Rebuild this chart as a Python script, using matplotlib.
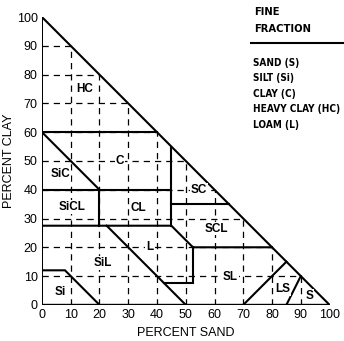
import matplotlib.pyplot as plt

# soil texture triangle (percent sand on x, percent clay on y)
ticks = [0, 10, 20, 30, 40, 50, 60, 70, 80, 90, 100]

# solid class boundaries, each as (sand list, clay list)
boundaries = [
    ([0, 0, 100, 0], [0, 100, 0, 0]),          # outer triangle
    ([0, 40], [60, 60]),                      # HC / C
    ([0, 20], [60, 40]),                      # SiC / C
    ([0, 45], [40, 40]),                      # y = 40
    ([20, 20], [40, 27.5]),                   # SiCL / CL
    ([45, 45], [55, 27.5]),                   # C-CL / SC-SCL
    ([45, 65], [35, 35]),                     # SC / SCL
    ([0, 45, 52.5, 80], [27.5, 27.5, 20, 20]),
    ([52.5, 52.5, 42.5], [20, 7.5, 7.5]),
    ([22.5, 50], [27.5, 0]),                  # SiL / L
    ([0, 8, 20], [12, 12, 0]),                # Si
    ([70, 85], [0, 15]),                      # SL / LS
    ([85, 90], [0, 10]),                      # LS / S
]

class_names = ['HC', 'C', 'SiC', 'SiCL', 'CL', 'SiL', 'Si', 'L',
               'SC', 'SCL', 'SL', 'LS', 'S']
class_sand = [15, 27, 6.5, 10.5, 33.5, 21, 6.3, 37.5, 54.5, 60.5, 65.5, 83.7, 93]
class_clay = [75, 50, 45.5, 34, 33.5, 14.5, 4.5, 20, 40, 26.5, 9.8, 5.5, 3.2]

legend_title = ['FINE', 'FRACTION']
legend_items = ['SAND (S)', 'SILT (Si)', 'CLAY (C)', 'HEAVY CLAY (HC)', 'LOAM (L)']

fig = plt.figure(figsize=(3.44, 3.41), dpi=100)
ax = fig.add_axes([0.122, 0.106, 0.836, 0.844])

# dashed grid clipped to the triangle
for v in ticks[1:-1]:
    ax.plot([v, v], [0, 100 - v], color='black', lw=0.9, ls=(0, (5, 4)))
    ax.plot([0, 100 - v], [v, v], color='black', lw=0.9, ls=(0, (5, 4)))

for xs, ys in boundaries:
    ax.plot(xs, ys, color='black', lw=1.5, solid_joinstyle='miter')

for name, sx, cy in zip(class_names, class_sand, class_clay):
    ax.text(sx, cy, name, ha='center', va='center', fontsize=8.5,
            fontweight='bold', family='Liberation Sans',
            bbox=dict(facecolor='white', edgecolor='none', pad=0.6))

ax.set_xlim(0, 100)
ax.set_ylim(0, 100)
ax.set_xticks(ticks)
ax.set_yticks(ticks)
ax.tick_params(length=0, labelsize=9, pad=3)
for lab in ax.get_xticklabels() + ax.get_yticklabels():
    lab.set_family('Liberation Sans')
for s in ax.spines.values():
    s.set_visible(False)
ax.set_xlabel('PERCENT SAND', fontsize=9, family='Liberation Sans', labelpad=4)
ax.set_ylabel('PERCENT CLAY', fontsize=9, family='Liberation Sans', labelpad=1)

# legend block in the top right
legend_font = dict(family=['Liberation Sans Narrow', 'DejaVu Sans'],
                   fontstretch='condensed', fontweight='bold', va='center')
fig.text(254 / 344, 1 - 12 / 341, legend_title[0], fontsize=8, **legend_font)
fig.text(254 / 344, 1 - 29 / 341, legend_title[1], fontsize=8, **legend_font)
fig.add_artist(plt.Line2D([251 / 344, 1.0], [1 - 43 / 341, 1 - 43 / 341],
                          color='black', lw=1.5))
for i, item in enumerate(legend_items):
    fig.text(253 / 344, 1 - (63 + 15.4 * i) / 341, item, fontsize=7.2,
             **legend_font)

fig.savefig('out.png', dpi=100)
